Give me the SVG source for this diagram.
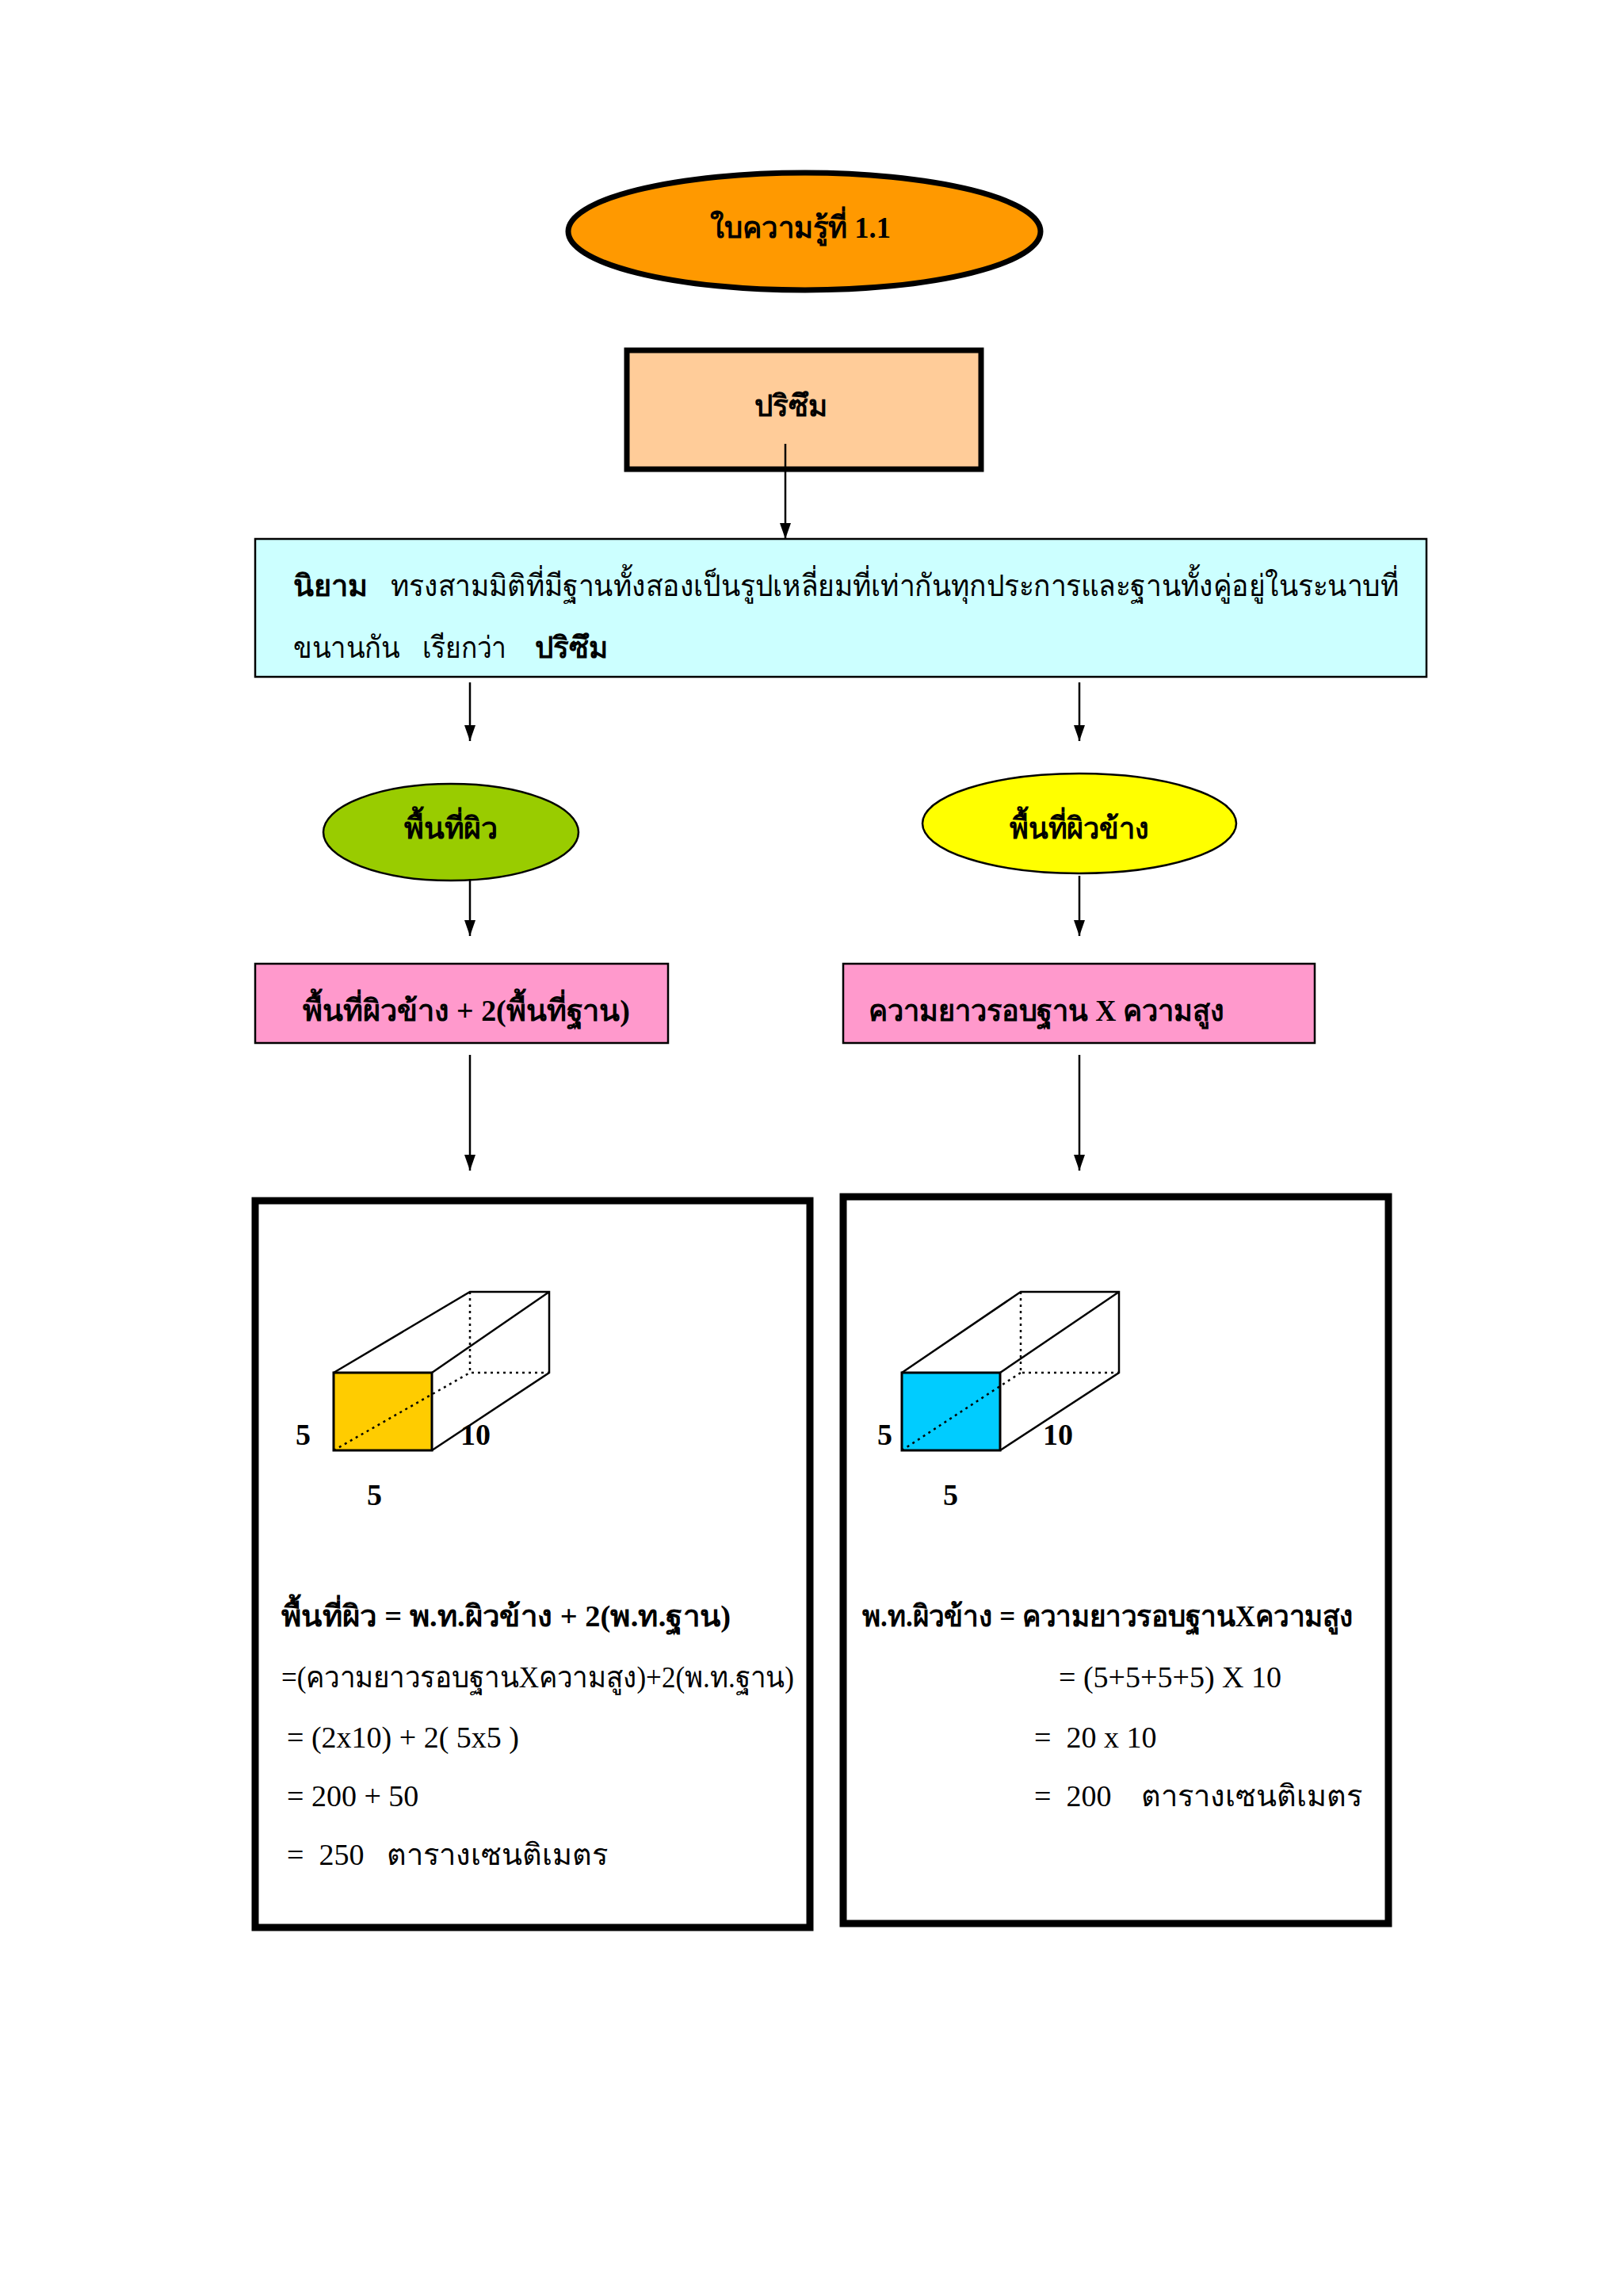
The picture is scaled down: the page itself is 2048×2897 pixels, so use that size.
<svg xmlns="http://www.w3.org/2000/svg" width="2048" height="2897" viewBox="0 0 2048 2897">
<style>
text{font-family:"Liberation Serif","Noto Sans",serif;fill:#000;font-size:38px}
.b{font-weight:bold}
.c{text-anchor:middle}
.ln{stroke:#000;stroke-width:2.5;fill:none}
.dot{stroke:#000;stroke-width:2.5;stroke-dasharray:3 5;fill:none}
</style>
<defs><marker id="ah" viewBox="0 0 10 10" refX="10" refY="5" markerWidth="7" markerHeight="7" markerUnits="userSpaceOnUse" orient="auto"><path d="M0,0 L10,5 L0,10 z" fill="#000"/></marker>
<marker id="a" viewBox="0 0 10 10" refX="10" refY="5" markerWidth="20" markerHeight="20" markerUnits="userSpaceOnUse" orient="auto"><path d="M0,1.5 L10,5 L0,8.5 z" fill="#000"/></marker></defs>
<rect width="2048" height="2897" fill="#fff"/>
<g id="title"><ellipse cx="1015" cy="292" rx="298" ry="74" fill="#FF9900" stroke="#000" stroke-width="7"/><text class="b c" x="1010" y="300" textLength="228" lengthAdjust="spacingAndGlyphs">ใบความรู้ที่ 1.1</text></g>
<g id="prism"><rect x="791" y="442" width="447" height="150" fill="#FFCC99" stroke="#000" stroke-width="7"/><text class="b c" x="998" y="525" textLength="92" lengthAdjust="spacingAndGlyphs">ปริซึม</text></g>
<g id="def"><rect x="322" y="680" width="1478" height="174" fill="#CCFFFF" stroke="#000" stroke-width="2.5"/>
<text x="370" y="752"><tspan class="b">นิยาม</tspan></text>
<text x="493" y="752" textLength="1272" lengthAdjust="spacingAndGlyphs">ทรงสามมิติที่มีฐานทั้งสองเป็นรูปเหลี่ยมที่เท่ากันทุกประการและฐานทั้งคู่อยู่ในระนาบที่</text>
<text x="370" y="830" textLength="135" lengthAdjust="spacingAndGlyphs">ขนานกัน</text><text x="533" y="830" textLength="106" lengthAdjust="spacingAndGlyphs">เรียกว่า</text><text class="b" x="675" y="830" textLength="92" lengthAdjust="spacingAndGlyphs">ปริซึม</text></g>
<g id="surf"><ellipse cx="569" cy="1050" rx="161" ry="61" fill="#99CC00" stroke="#000" stroke-width="2.5"/><text class="b c" x="569" y="1058" textLength="118" lengthAdjust="spacingAndGlyphs">พื้นที่ผิว</text></g>
<g id="lat"><ellipse cx="1362" cy="1039" rx="198" ry="63" fill="#FFFF00" stroke="#000" stroke-width="2.5"/><text class="b c" x="1362" y="1058" textLength="176" lengthAdjust="spacingAndGlyphs">พื้นที่ผิวข้าง</text></g>
<g id="f1"><rect x="322" y="1216" width="521" height="100" fill="#FF99CC" stroke="#000" stroke-width="2.5"/><text class="b" x="382" y="1288" textLength="413" lengthAdjust="spacingAndGlyphs">พื้นที่ผิวข้าง + 2(พื้นที่ฐาน)</text></g>
<g id="f2"><rect x="1064" y="1216" width="595" height="100" fill="#FF99CC" stroke="#000" stroke-width="2.5"/><text class="b" x="1096" y="1288" textLength="449" lengthAdjust="spacingAndGlyphs">ความยาวรอบฐาน  X  ความสูง</text></g>
<g id="box1"><rect x="322" y="1515" width="700" height="917" fill="#fff" stroke="#000" stroke-width="9"/>
<rect x="421" y="1732" width="124" height="98" fill="#FFCC00" stroke="#000" stroke-width="3"/>
<path class="ln" d="M421,1732 L593,1630 L693,1630 L693,1732 L545,1830 M545,1732 L693,1630"/>
<path class="dot" d="M593,1630 L593,1732 L693,1732 M421,1830 L593,1732"/>
<text class="b" x="373" y="1823" font-size="34">5</text><text class="b" x="581" y="1823" font-size="34">10</text><text class="b" x="463" y="1899" font-size="34">5</text>
<text class="b" x="355" y="2052" textLength="567" lengthAdjust="spacingAndGlyphs">พื้นที่ผิว   =  พ.ท.ผิวข้าง + 2(พ.ท.ฐาน)</text>
<text x="355" y="2129" textLength="647" lengthAdjust="spacingAndGlyphs">=(ความยาวรอบฐานXความสูง)+2(พ.ท.ฐาน)</text>
<text x="362" y="2205">= (2x10)  + 2( 5x5 )</text>
<text x="362" y="2279">= 200 +  50</text>
<text x="362" y="2353" xml:space="preserve">=  250   ตารางเซนติเมตร</text></g>
<g id="box2"><rect x="1064" y="1510" width="688" height="917" fill="#fff" stroke="#000" stroke-width="9"/>
<rect x="1138" y="1732" width="124" height="98" fill="#00CCFF" stroke="#000" stroke-width="3"/>
<path class="ln" d="M1138,1732 L1288,1630 L1412,1630 L1412,1732 L1262,1830 M1262,1732 L1412,1630"/>
<path class="dot" d="M1288,1630 L1288,1732 L1412,1732 M1138,1830 L1288,1732"/>
<text class="b" x="1107" y="1823" font-size="34">5</text><text class="b" x="1316" y="1823" font-size="34">10</text><text class="b" x="1190" y="1899" font-size="34">5</text>
<text class="b" x="1088" y="2052" textLength="620" lengthAdjust="spacingAndGlyphs">พ.ท.ผิวข้าง = ความยาวรอบฐานXความสูง</text>
<text x="1336" y="2129">= (5+5+5+5) X 10</text>
<text x="1305" y="2205" xml:space="preserve">=  20 x 10</text>
<text x="1305" y="2279" xml:space="preserve">=  200    ตารางเซนติเมตร</text></g>
<g id="connectors" stroke="#000" stroke-width="2.5" marker-end="url(#a)">
<line x1="991" y1="560" x2="991" y2="680"/>
<line x1="593" y1="861" x2="593" y2="935"/>
<line x1="1362" y1="861" x2="1362" y2="935"/>
<line x1="593" y1="1109" x2="593" y2="1181"/>
<line x1="1362" y1="1105" x2="1362" y2="1181"/>
<line x1="593" y1="1331" x2="593" y2="1477"/>
<line x1="1362" y1="1331" x2="1362" y2="1477"/>
</g>
</svg>
